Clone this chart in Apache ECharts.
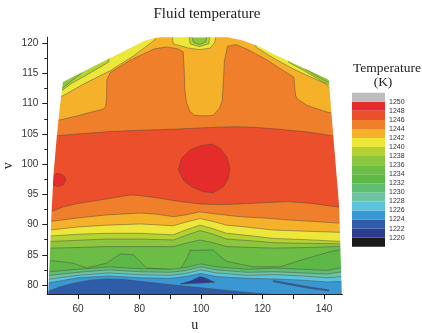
<!DOCTYPE html>
<html><head><meta charset="utf-8">
<script src="https://cdn.jsdelivr.net/npm/echarts@6/dist/echarts.min.js"></script>
<style>html,body{margin:0;padding:0;background:#fff}#c{width:422px;height:333px}</style>
</head><body><div id="c"></div>
<script>
// ---- legend / colour scale (K) ----
const legendTicks = [1220,1222,1224,1226,1228,1230,1232,1234,1236,1238,1240,1242,1244,1246,1248,1250];
const bandLows = [1218,1220,1222,1224,1226,1228,1230,1232,1234,1236,1238,1240,1242,1244,1246,1248,1250];
const bandColors = ['#1a1a1a','#2c3d90','#2f5ca9','#3a97d3','#5bc4dc','#6dc4a2','#61bc74','#5eb847','#6bbd45','#8cc63f','#b4d233','#ece73a','#f6b12b','#f07f2b','#ec4f2b','#e42d2a','#bdbdbd'];

// ---- axis ticks ----
const xTickValues = [60,70,80,90,100,110,120,130,140];
const xLabelValues = [60,80,100,120,140];
const yLabelValues = [80,85,90,95,100,105,110,115,120];
const yMinorValues = [82.5,87.5,92.5,97.5,102.5,107.5,112.5,117.5];

// ---- domain outline (u, v) ----
const domainLeft = [[50.3,78.5],[50.8,84],[51.3,91],[52.0,98],[53.0,104],[54.0,109],[55.1,113.6]];
const domainTop = [[55.1,113.6],[68.2,117.0],[81.5,120.4],[84.5,120.85],[87,121],[108.6,121],[113.3,120.5],[118.5,119.55],[123.7,118.2],[141.1,114.1],[141.6,113.8]];
const domainRight = [[141.6,113.8],[142.6,107.3],[144.9,93.2],[145.8,78.5]];

// ---- contour lines, listed top to bottom; value = band below the line ----
const topFill = [[50,121.5],[146,121.5]];
const top1238 = [[50,112.3],[55.1,112.6],[58,113.8],[61,115.0],[61.6,121.5],[96.8,121.5],[97.5,120.2],[99.5,119.8],[101.5,120.2],[102.2,121.5],[133.5,121.5],[134,115.7],[138,114.45],[141.6,113.45],[146,112.7]];
const top1240 = [[50,111.9],[55.1,112.3],[58,113.4],[62,114.5],[66,115.7],[70,116.9],[70.8,121.5],[96,121.5],[96.5,119.9],[99.5,119.45],[102.5,119.9],[103,121.5],[128,121.5],[128.5,116.85],[134,115.35],[138,114.1],[141.6,113.1],[146,112.3]];
const top1242 = [[50,110.6],[55.1,111.3],[61.95,113.3],[70.6,115.5],[78,117.9],[82,119.4],[85,120.6],[86,121.5],[90.5,121.5],[91,119.9],[96,119.2],[99.5,118.95],[103,119.2],[104.5,120.2],[105,121.5],[117,121.5],[118,119.3],[123.7,117.5],[130.2,115.7],[140.5,113.3],[141.6,112.7],[146,112]];
const top1244 = [[50,107.4],[54.1,107.3],[59.8,108],[65,108.7],[68.2,109.1],[69.0,109.6],[69.3,111],[69.4,114.0],[70.6,115.2],[77,117.2],[84.7,119.06],[88.8,119.4],[92.3,119.1],[94.2,118.6],[94.5,116],[94.8,112],[95.3,110.2],[96.4,108.7],[98,108.1],[99.7,108.0],[102,108.0],[104,108.1],[106.1,109.3],[106.9,110.5],[107.3,113.9],[107.6,117],[108.6,119.5],[111.3,119.8],[115.1,119.0],[121.6,117.2],[127,115.4],[130.2,114.4],[130.5,112.5],[130.8,111.3],[131.3,110.8],[134.6,109.7],[141.1,108.6],[146,108.2]];
const mid1246 = [[50,104.6],[52,104.66],[60,105.0],[70.6,105.4],[80,105.6],[92.3,105.8],[100,106.0],[110.7,106.2],[117,106.1],[124.8,105.8],[135,105.3],[142.7,104.7],[146,104.5]];
const low1244 = [[50,92.1],[52,92.3],[55,92.9],[60,93.5],[64,93.8],[70,94.3],[77,94.9],[80,94.8],[86,94.4],[92,93.9],[100,93.4],[106,93.3],[112,93.4],[120,93.6],[128,93.8],[136,93.5],[146,92.8]];
const low1242 = [[50,90.4],[51,90.5],[60,91.1],[69.3,91.6],[80.2,91.9],[86,91.7],[91,91.3],[95,91.6],[99.7,92.1],[104,91.8],[112.7,91.3],[120,91.1],[129,90.75],[137,90.5],[146,90.2]];
const low1240 = [[50,89.0],[51,89.1],[60,89.6],[69.3,89.9],[80.2,90.1],[91,89.8],[95,90.4],[99.7,91.0],[104,90.5],[108.3,89.9],[112.7,89.7],[123.5,89.1],[134,88.9],[146,88.7]];
const low1238 = [[50,88.0],[51,88.1],[60,88.4],[69.3,88.55],[80.2,88.55],[91,88.3],[95,89.1],[99.7,89.9],[104,89.3],[108.3,88.55],[117,88.1],[123.5,87.7],[134,87.5],[146,87.2]];
const low1236 = [[50,87.1],[51,87.2],[60,87.4],[69.3,87.6],[80.2,87.6],[91,87.45],[95,88.2],[99.7,89.0],[104,88.4],[108.3,87.6],[117,87.3],[123.5,87.0],[134,86.9],[146,86.8]];
const low1234 = [[50,86.0],[51,86.1],[60,86.2],[69.3,86.35],[80.2,86.35],[91,86.35],[95,86.9],[99.7,87.45],[104,87.0],[108.3,86.35],[123.5,86.1],[134,86.2],[146,86.4]];
const low1232 = [[50,84.0],[52,84.0],[58.5,83.6],[62.8,82.8],[66,83.2],[69.3,83.6],[73.7,85.1],[78,85.0],[82.3,82.8],[90,82.6],[93.2,82.5],[95.5,84.5],[96.4,85.7],[104,85.8],[106,84.8],[108.3,83.9],[117,83.0],[125.7,83.0],[134.4,84.4],[142,85.5],[146,85.9]];
const low1230 = [[50,82.1],[51,82.2],[60,82.6],[70,83.0],[80,82.7],[90,82.6],[95,82.9],[100,83.5],[105,83.0],[115,82.6],[124,82.8],[133,82.6],[141,82.4],[146,82.9]];
const low1228 = [[50,81.5],[51,81.6],[60,82.1],[70,82.5],[80,82.2],[90,82.1],[95,82.4],[100,83.0],[105,82.5],[115,82.1],[124,82.2],[133,82.0],[141,81.8],[146,82.2]];
const low1226 = [[50,80.9],[51,81.0],[60,81.6],[70,82.0],[80,81.7],[90,81.6],[95,81.9],[100,82.5],[105,82.0],[115,81.6],[124,81.7],[133,81.5],[141,81.2],[146,81.4]];
const low1224 = [[50,80.3],[51,80.4],[60,81.2],[70,81.5],[80,81.2],[90,81.1],[95,81.4],[100,81.9],[105,81.4],[115,81.1],[124,81.0],[133,80.8],[141,80.5],[146,80.6]];
const low1222 = [[50,78.9],[50.3,78.9],[54.1,79.7],[58.5,80.3],[63.9,80.8],[69.3,81.0],[75,80.9],[80.2,80.6],[91,80.0],[101.8,79.45],[112.7,78.9],[123.5,78.4],[146,78.4]];

// ---- closed contours ----
const hotCore = [[92.63,99.14],[93.71,100.96],[96.42,102.34],[99.67,103.0],[103.47,103.33],[106.18,102.62],[108.35,101.24],[109.43,99.31],[108.89,97.65],[107.26,96.27],[104.01,95.28],[100.76,95.45],[96.96,96.27],[94.25,97.38]];
const hotEdge = [[51.8,97.9],[52.8,98.45],[54.3,98.4],[55.7,97.9],[56.0,97.3],[55.2,96.6],[53.6,96.3],[52.0,96.5]];
const coldCore = [[93.2,80.15],[97,80.75],[99.5,81.35],[100.8,81.3],[104.5,80.45],[99.5,80.3]];
const coldStreak = [[123.5,80.75],[134.4,79.75],[141.5,79.2],[141.5,79.0],[134.4,79.5],[123.5,80.55]];

const contourLines = [
  [topFill,1236],[top1238,1238],[top1240,1240],[top1242,1242],[top1244,1244],
  [mid1246,1246],[low1244,1244],[low1242,1242],[low1240,1240],[low1238,1238],
  [low1236,1236],[low1234,1234],[low1232,1232],[low1230,1230],[low1228,1228],
  [low1226,1226],[low1224,1224],[low1222,1222]
];
const closedShapes = [[hotCore,1248],[hotEdge,1248],[coldCore,1220],[coldStreak,1222]];

const X_MIN = 50, X_MAX = 146, Y_MIN = 78.5, Y_MAX = 121;
function colorOf(t){ return bandColors[bandLows.indexOf(t)]; }
const lineCol = 'rgba(70,70,60,0.75)';

const series = [];
contourLines.forEach(function(c, i){
  series.push({
    type:'line', xAxisIndex:0, yAxisIndex:0, data:c[0], showSymbol:false, symbol:'none',
    smooth:false, silent:true, animation:false, z:2+i, clip:true,
    lineStyle:{width: i===0?0:0.6, color:lineCol},
    areaStyle:{color:colorOf(c[1]), opacity:1, origin:'start'}
  });
});
series.push({
  type:'custom', xAxisIndex:0, yAxisIndex:0, silent:true, animation:false, z:30, clip:true,
  data: closedShapes.map(function(s, i){ return [i]; }),
  renderItem: function(params, api){
    const s = closedShapes[params.dataIndex];
    return {type:'polygon', shape:{points: s[0].map(function(p){ return api.coord(p); })},
      style:{fill:colorOf(s[1]), stroke:lineCol, lineWidth:0.6}};
  }
});
// white mask outside the measured domain (slightly past the plot frame)
series.push({
  type:'custom', xAxisIndex:0, yAxisIndex:0, silent:true, animation:false, z:40, clip:false,
  data:[[0]],
  renderItem: function(params, api){
    const pts = [[X_MIN,Y_MIN]].concat(domainLeft, domainTop, domainRight,
      [[X_MAX+0.8,Y_MIN],[X_MAX+0.8,Y_MAX+0.4],[X_MIN,Y_MAX+0.4]]);
    return {type:'polygon', shape:{points: pts.map(function(p){ return api.coord(p); })}, style:{fill:'#fff'}};
  }
});
// colour bar
series.push({
  type:'custom', xAxisIndex:1, yAxisIndex:2, silent:true, animation:false, z:5,
  data: bandLows.map(function(lo, i){ return [lo, i]; }),
  renderItem: function(params, api){
    const lo = api.value(0);
    const p1 = api.coord([0, lo+2]), p2 = api.coord([1, lo]);
    return {type:'rect', shape:{x:p1[0], y:p1[1], width:p2[0]-p1[0], height:p2[1]-p1[1]},
      style:{fill: bandColors[params.dataIndex]}};
  }
});

const chart = echarts.init(document.getElementById('c'), null, {renderer:'canvas'});
const tickFont = {fontFamily:'Liberation Sans', fontSize:10, color:'#333'};
chart.setOption({
  animation:false,
  backgroundColor:'#fff',
  grid:[
    {left:47.25, top:37.25, width:295.2, height:256.8, outerBoundsMode:'none', containLabel:false},
    {left:352, top:92.7, width:33, height:154, outerBoundsMode:'none', containLabel:false}
  ],
  xAxis:[
    {gridIndex:0, type:'value', min:X_MIN, max:X_MAX, z:50,
     axisLine:{show:true, onZero:false, lineStyle:{color:'#222', width:1}},
     axisTick:{show:true, length:5, customValues:xTickValues, lineStyle:{color:'#222'}},
     axisLabel:Object.assign({customValues:xLabelValues, margin:10}, tickFont),
     splitLine:{show:false},
     name:'u', nameLocation:'middle', nameGap:24, nameMoveOverlap:false,
     nameTextStyle:{fontFamily:'Liberation Serif', fontSize:14, color:'#222'}},
    {gridIndex:1, type:'value', min:0, max:1, show:false}
  ],
  yAxis:[
    {gridIndex:0, type:'value', position:'left', min:Y_MIN, max:Y_MAX, z:50,
     axisLine:{show:true, onZero:false, lineStyle:{color:'#222', width:1}},
     axisTick:{show:true, length:5, customValues:yLabelValues, lineStyle:{color:'#222'}},
     axisLabel:Object.assign({customValues:yLabelValues, margin:9}, tickFont),
     splitLine:{show:false},
     name:'v', nameLocation:'middle', nameGap:32, nameMoveOverlap:false,
     nameTextStyle:{fontFamily:'Liberation Serif', fontSize:14, color:'#222'}},
    {gridIndex:0, type:'value', position:'left', offset:0, min:Y_MIN, max:Y_MAX, z:50,
     axisLine:{show:false, onZero:false},
     axisTick:{show:true, length:3, customValues:yMinorValues, lineStyle:{color:'#222'}},
     axisLabel:{show:false}, splitLine:{show:false}},
    {gridIndex:1, type:'value', min:1218, max:1252, interval:2, position:'right',
     axisLine:{show:false}, axisTick:{show:false}, splitLine:{show:false},
     axisLabel:{fontFamily:'Liberation Sans', fontSize:7, color:'#333', margin:4,
       formatter:function(v){ return legendTicks.indexOf(v) >= 0 ? String(v) : ''; }}}
  ],
  graphic:[
    {type:'text', x:207, y:14, z:100, style:{text:'Fluid temperature', font:'15px "Liberation Serif"', fill:'#222', textAlign:'center', textVerticalAlign:'middle'}},
    {type:'text', x:387, y:68.5, z:100, style:{text:'Temperature', font:'13.5px "Liberation Serif"', fill:'#222', textAlign:'center', textVerticalAlign:'middle'}},
    {type:'text', x:383, y:82, z:100, style:{text:'(K)', font:'13.5px "Liberation Serif"', fill:'#222', textAlign:'center', textVerticalAlign:'middle'}}
  ],
  series:series
});
</script></body></html>
